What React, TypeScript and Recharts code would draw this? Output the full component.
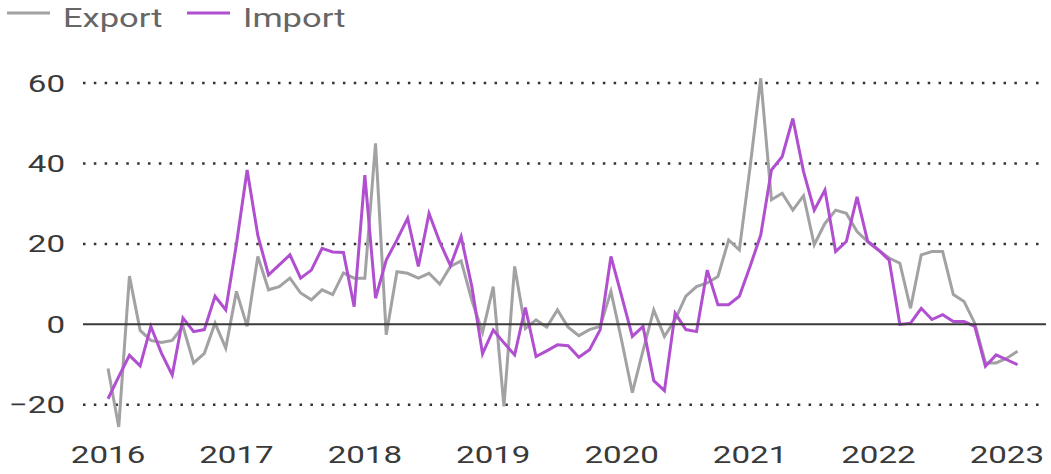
import React from 'react';
import { LineChart, Line, XAxis, YAxis, ReferenceLine, Legend } from 'recharts';

const startYear = 2016;

const exportValues = [
  -11, -25.5, 12, -1.5, -4, -4.5, -4, -0.5, -9.6, -7.2, 0.3, -5.9,
  8.2, -0.5, 16.9, 8.6, 9.4, 11.5, 7.8, 6.1, 8.6, 7.4, 12.8, 11.5,
  11.5, 45, -2.6, 13.1, 12.7, 11.5, 12.7, 10, 14.4, 15.8, 6, -2,
  9.4, -20.4, 14.4, -1, 1.1, -0.7, 3.6, -0.7, -2.8, -1.3, -0.5, 8.2,
  -4, -17, -6.5, 3.6, -3, 1.2, 7, 9.4, 10.3, 11.9, 21, 18.5,
  39, 61.2, 31, 32.6, 28.4, 32, 19.8, 25.1, 28.4, 27.6, 23.1, 20.6,
  18.5, 16.5, 15.2, 4, 17.3, 18.1, 18.1, 7.4, 5.7, 0.3, -9.6, -9.6,
  -8.4, -6.7,
];

const importValues = [
  -18.5, -13, -7.7, -10.3, -0.5, -7.2, -12.6, 1.6, -1.8, -1.3, 7, 3.6,
  20, 38.4, 22.1, 12.3, 14.8, 17.3, 11.5, 13.5, 18.9, 18, 17.9, 4.4,
  37.1, 6.5, 16, 21, 26.4, 14.4, 27.6, 20.5, 14.6, 21.8, 9.4, -7.3,
  -1.4, -4.6, -7.6, 4.2, -8, -6.6, -5.1, -5.3, -8.2, -6.3, -1.3, 16.9,
  7, -3, -0.5, -14, -16.5, 2.8, -1.3, -1.8, 13.5, 4.9, 4.9, 7,
  14.4, 22.2, 38.4, 41.7, 51.2, 38, 28.4, 33.4, 18.1, 20.6, 31.7, 20.6,
  18.5, 16, 0, 0.3, 4, 1.2, 2.4, 0.7, 0.7, -0.5, -10.4, -7.6,
  -8.8, -10,
];

const yearTicks = [2016, 2017, 2018, 2019, 2020, 2021, 2022, 2023];
const yTicks = [-20, 0, 20, 40, 60];
const dottedGridValues = [60, 40, 20, -20];
const seriesNames = ['Export', 'Import'];
const seriesColors = ['#a2a2a5', '#b04fcf'];

const months = exportValues.map(
  (_, i) => `${startYear + Math.floor(i / 12)}-${String((i % 12) + 1).padStart(2, '0')}`
);
const data = months.map((m, i) => ({
  month: m,
  t: i,
  Export: exportValues[i],
  Import: importValues[i],
}));
const xTickValues = yearTicks.map((y) => (y - startYear) * 12);

const SX = 1.38;
const FONT = 'Roboto, "Liberation Sans", sans-serif';

const YTick = (props: any) => {
  const { x, y, payload } = props;
  const v = payload.value as number;
  const label = v < 0 ? `\u2212${Math.abs(v)}` : `${v}`;
  return (
    <text
      transform={`translate(${x - 18},${y + 8.5}) scale(${SX},1)`}
      textAnchor="end"
      fontFamily={FONT}
      fontSize={24}
      fill="#3a3a3a"
    >
      {label}
    </text>
  );
};

const XTick = (props: any) => {
  const { x, y, payload } = props;
  const label = `${startYear + Math.round(payload.value / 12)}`;
  return (
    <text
      transform={`translate(${x},${y + 18}) scale(${SX},1)`}
      textAnchor="middle"
      fontFamily={FONT}
      fontSize={24}
      fill="#3a3a3a"
    >
      {label}
    </text>
  );
};

const LegendContent = () => (
  <div style={{ height: 30, width: 400 }}>
    <svg width={400} height={30} style={{ display: 'block', overflow: 'visible' }}>
      <line x1={7} x2={50} y1={13} y2={13} stroke={seriesColors[0]} strokeWidth={3} />
      <text
        transform={`translate(63,26.7) scale(${SX},1)`}
        fontFamily={FONT}
        fontSize={25}
        fill="#666"
      >
        {seriesNames[0]}
      </text>
      <line x1={187} x2={230} y1={13} y2={13} stroke={seriesColors[1]} strokeWidth={3} />
      <text
        transform={`translate(243,26.7) scale(${SX},1)`}
        fontFamily={FONT}
        fontSize={25}
        fill="#666"
      >
        {seriesNames[1]}
      </text>
    </svg>
  </div>
);

export default function App() {
  return (
    <div style={{ position: 'absolute', left: 0, top: 0, width: 1051, height: 474, background: '#fff' }}>
      <LineChart
        width={1051}
        height={474}
        data={data}
        margin={{ top: 33, right: 5, bottom: 0, left: 0 }}
      >
        <Legend
          verticalAlign="top"
          align="left"
          content={<LegendContent />}
          wrapperStyle={{ top: 0, left: 0, height: 30, width: 400 }}
        />
        <XAxis
          dataKey="t"
          type="number"
          domain={[-2.34, 87.66]}
          ticks={xTickValues}
          tick={<XTick />}
          tickLine={false}
          axisLine={false}
          tickSize={0}
          tickMargin={0}
          height={29}
          allowDataOverflow
        />
        <YAxis
          type="number"
          domain={[-30, 65]}
          ticks={yTicks}
          tick={<YTick />}
          tickLine={false}
          axisLine={false}
          tickSize={0}
          tickMargin={0}
          width={83}
          allowDataOverflow
        />
        {dottedGridValues.map((v) => (
          <ReferenceLine
            key={v}
            y={v}
            stroke="#333"
            strokeWidth={2.5}
            strokeDasharray="2.5 8.33"
          />
        ))}
        <Line
          type="linear"
          dataKey="Export"
          stroke={seriesColors[0]}
          strokeWidth={3}
          dot={false}
          activeDot={false}
          isAnimationActive={false}
        />
        <Line
          type="linear"
          dataKey="Import"
          stroke={seriesColors[1]}
          strokeWidth={3}
          dot={false}
          activeDot={false}
          isAnimationActive={false}
        />
        <ReferenceLine y={0} stroke="#3a3a3a" strokeWidth={2} />
      </LineChart>
    </div>
  );
}
